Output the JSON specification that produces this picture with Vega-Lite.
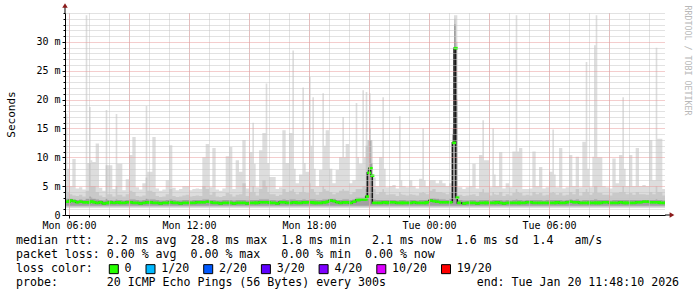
{
"$schema": "https://vega.github.io/schema/vega-lite/v6.json",
"width": 600, "height": 202,
"autosize": {"type": "none"},
"padding": {"left": 65, "top": 13, "right": 32, "bottom": 82},
"background": "#ffffff",
"config": {"font": "DejaVu Sans Mono", "view": {"stroke": null}, "axis": {"labelFont": "DejaVu Sans Mono", "labelFontSize": 10, "labelColor": "#000000", "tickColor": "#000000", "domainColor": "#000000", "gridOpacity": 1}},
"title": {"text": [
 "median\u00a0rtt:\u00a0\u00a02.2\u00a0ms\u00a0avg\u00a0\u00a028.8\u00a0ms\u00a0max\u00a0\u00a01.8\u00a0ms\u00a0min\u00a0\u00a0\u00a02.1\u00a0ms\u00a0now\u00a0\u00a01.6\u00a0ms\u00a0sd\u00a0\u00a01.4\u00a0\u00a0\u00a0am/s",
 "packet\u00a0loss:\u00a00.00\u00a0%\u00a0avg\u00a0\u00a00.00\u00a0%\u00a0max\u00a0\u00a0\u00a00.00\u00a0%\u00a0min\u00a0\u00a00.00\u00a0%\u00a0now",
 "loss\u00a0color:",
 "probe:\u00a0\u00a0\u00a0\u00a0\u00a0\u00a0\u00a020\u00a0ICMP\u00a0Echo\u00a0Pings\u00a0(56\u00a0Bytes)\u00a0every\u00a0300s\u00a0\u00a0\u00a0\u00a0\u00a0\u00a0\u00a0\u00a0\u00a0\u00a0\u00a0\u00a0\u00a0end:\u00a0Tue\u00a0Jan\u00a020\u00a011:48:10\u00a02026"],
 "orient": "bottom", "anchor": "start", "frame": "group", "dx": -49, "dy": -47, "offset": 6, "baseline": "top",
 "font": "DejaVu Sans Mono", "fontSize": 11.6, "fontWeight": "normal", "lineHeight": 14, "color": "#000000"},
"data": {"values": [
{"t":"2026-01-19T05:50Z","h":17.6,"p":5,"d":2.8,"m":2.3},
{"t":"2026-01-19T05:55Z","h":8,"p":4,"d":2.8,"m":2.3},
{"t":"2026-01-19T06:00Z","h":5,"p":3.6,"d":2.8,"m":2.5},
{"t":"2026-01-19T06:10Z","h":9.7,"p":3.4,"d":2.7,"m":2.4},
{"t":"2026-01-19T06:20Z","h":4.6,"p":3.3,"d":2.6,"m":2.2},
{"t":"2026-01-19T06:30Z","h":4.8,"p":3.5,"d":2.7,"m":2.3},
{"t":"2026-01-19T06:40Z","h":4.4,"p":3.2,"d":2.6,"m":2.2},
{"t":"2026-01-19T06:50Z","h":34.6,"p":4.2,"d":2.8,"m":2.2},
{"t":"2026-01-19T06:55Z","h":9,"p":4.2,"d":2.8,"m":2.2},
{"t":"2026-01-19T07:00Z","h":18.7,"p":9,"d":3.2,"m":2.3},
{"t":"2026-01-19T07:05Z","h":9.5,"p":5,"d":3,"m":2.3},
{"t":"2026-01-19T07:10Z","h":9.2,"p":5,"d":2.8,"m":2.2},
{"t":"2026-01-19T07:20Z","h":12.4,"p":4,"d":2.7,"m":2.1},
{"t":"2026-01-19T07:30Z","h":4.7,"p":3.4,"d":2.6,"m":2.2},
{"t":"2026-01-19T07:40Z","h":4.2,"p":3.1,"d":2.5,"m":2.0},
{"t":"2026-01-19T07:50Z","h":18.2,"p":8.6,"d":2.8,"m":2.1},
{"t":"2026-01-19T07:55Z","h":8.6,"p":3.6,"d":2.6,"m":2.1},
{"t":"2026-01-19T08:00Z","h":8.6,"p":3.6,"d":2.6,"m":2.2},
{"t":"2026-01-19T08:10Z","h":4.5,"p":3.2,"d":2.5,"m":2.1},
{"t":"2026-01-19T08:20Z","h":17.5,"p":5,"d":2.7,"m":2.2},
{"t":"2026-01-19T08:25Z","h":8.9,"p":3.5,"d":2.6,"m":2.2},
{"t":"2026-01-19T08:30Z","h":8.9,"p":3.5,"d":2.6,"m":2.1},
{"t":"2026-01-19T08:40Z","h":4.3,"p":3.2,"d":2.5,"m":2.1},
{"t":"2026-01-19T08:50Z","h":6.2,"p":3.6,"d":2.6,"m":2.2},
{"t":"2026-01-19T09:00Z","h":10.4,"p":4.2,"d":2.7,"m":2.2},
{"t":"2026-01-19T09:10Z","h":13.5,"p":4,"d":2.7,"m":2.1},
{"t":"2026-01-19T09:20Z","h":4.8,"p":3.3,"d":2.6,"m":2.1},
{"t":"2026-01-19T09:30Z","h":4.4,"p":3.2,"d":2.5,"m":2.0},
{"t":"2026-01-19T09:40Z","h":5.5,"p":3.4,"d":2.6,"m":2.1},
{"t":"2026-01-19T09:50Z","h":18.9,"p":6.5,"d":2.8,"m":2.2},
{"t":"2026-01-19T09:55Z","h":7.5,"p":4.2,"d":2.7,"m":2.2},
{"t":"2026-01-19T10:00Z","h":7.5,"p":4.2,"d":2.7,"m":2.2},
{"t":"2026-01-19T10:10Z","h":13.5,"p":4,"d":2.7,"m":2.1},
{"t":"2026-01-19T10:20Z","h":4.6,"p":3.3,"d":2.6,"m":2.1},
{"t":"2026-01-19T10:30Z","h":4.2,"p":3.1,"d":2.5,"m":2.0},
{"t":"2026-01-19T10:40Z","h":4.4,"p":3.2,"d":2.5,"m":2.1},
{"t":"2026-01-19T10:50Z","h":6,"p":3.6,"d":2.6,"m":2.1},
{"t":"2026-01-19T11:00Z","h":12.1,"p":4.5,"d":2.7,"m":2.2},
{"t":"2026-01-19T11:10Z","h":4.7,"p":3.3,"d":2.6,"m":2.1},
{"t":"2026-01-19T11:20Z","h":4.3,"p":3.1,"d":2.5,"m":2.1},
{"t":"2026-01-19T11:30Z","h":4.5,"p":3.2,"d":2.5,"m":2.0},
{"t":"2026-01-19T11:40Z","h":5,"p":3.4,"d":2.6,"m":2.1},
{"t":"2026-01-19T11:50Z","h":5,"p":3.5,"d":2.6,"m":2.1},
{"t":"2026-01-19T12:00Z","h":4.3,"p":3.2,"d":2.5,"m":2.1},
{"t":"2026-01-19T12:10Z","h":4.5,"p":3.3,"d":2.6,"m":2.1},
{"t":"2026-01-19T12:20Z","h":4.6,"p":3.4,"d":2.6,"m":2.2},
{"t":"2026-01-19T12:30Z","h":4.5,"p":3.3,"d":2.6,"m":2.2},
{"t":"2026-01-19T12:40Z","h":10,"p":5,"d":2.7,"m":2.2},
{"t":"2026-01-19T12:50Z","h":12.3,"p":4.5,"d":2.7,"m":2.3},
{"t":"2026-01-19T13:00Z","h":4.8,"p":3.5,"d":2.6,"m":2.2},
{"t":"2026-01-19T13:10Z","h":11.6,"p":4,"d":2.6,"m":2.1},
{"t":"2026-01-19T13:20Z","h":4.4,"p":3.2,"d":2.5,"m":2.1},
{"t":"2026-01-19T13:30Z","h":4.2,"p":3.1,"d":2.5,"m":2.0},
{"t":"2026-01-19T13:40Z","h":4.6,"p":3.3,"d":2.6,"m":2.1},
{"t":"2026-01-19T13:50Z","h":10.2,"p":3.8,"d":2.6,"m":2.1},
{"t":"2026-01-19T14:00Z","h":11.8,"p":3.6,"d":2.6,"m":2.1},
{"t":"2026-01-19T14:10Z","h":4.5,"p":3.2,"d":2.5,"m":2.0},
{"t":"2026-01-19T14:20Z","h":9.5,"p":3.5,"d":2.6,"m":2.1},
{"t":"2026-01-19T14:30Z","h":7.5,"p":3.6,"d":2.6,"m":2.1},
{"t":"2026-01-19T14:40Z","h":13,"p":5.5,"d":2.6,"m":2.1},
{"t":"2026-01-19T14:50Z","h":4.6,"p":3.3,"d":2.5,"m":2.0},
{"t":"2026-01-19T15:00Z","h":10.9,"p":4,"d":2.6,"m":2.1},
{"t":"2026-01-19T15:10Z","h":16,"p":5,"d":2.6,"m":2.1},
{"t":"2026-01-19T15:15Z","h":8.9,"p":4,"d":2.6,"m":2.1},
{"t":"2026-01-19T15:20Z","h":4.8,"p":3.4,"d":2.6,"m":2.1},
{"t":"2026-01-19T15:30Z","h":11.2,"p":4.5,"d":2.7,"m":2.2},
{"t":"2026-01-19T15:40Z","h":14.2,"p":6,"d":2.7,"m":2.2},
{"t":"2026-01-19T15:50Z","h":22.8,"p":5,"d":2.7,"m":2.2},
{"t":"2026-01-19T15:55Z","h":9,"p":4,"d":2.7,"m":2.2},
{"t":"2026-01-19T16:00Z","h":6.6,"p":3.6,"d":2.6,"m":2.1},
{"t":"2026-01-19T16:10Z","h":6.6,"p":3.6,"d":2.6,"m":2.1},
{"t":"2026-01-19T16:20Z","h":4.5,"p":3.3,"d":2.5,"m":2.0},
{"t":"2026-01-19T16:30Z","h":4.8,"p":3.5,"d":2.6,"m":2.2},
{"t":"2026-01-19T16:40Z","h":14.7,"p":4.5,"d":2.7,"m":2.2},
{"t":"2026-01-19T16:50Z","h":9,"p":4,"d":2.6,"m":2.1},
{"t":"2026-01-19T17:00Z","h":14.2,"p":4.2,"d":2.7,"m":2.1},
{"t":"2026-01-19T17:10Z","h":28.5,"p":4.5,"d":2.7,"m":2.2},
{"t":"2026-01-19T17:15Z","h":8,"p":4,"d":2.7,"m":2.2},
{"t":"2026-01-19T17:20Z","h":5.5,"p":3.6,"d":2.6,"m":2.1},
{"t":"2026-01-19T17:30Z","h":7,"p":4,"d":2.6,"m":2.1},
{"t":"2026-01-19T17:40Z","h":22.1,"p":5,"d":2.7,"m":2.2},
{"t":"2026-01-19T17:45Z","h":9,"p":4,"d":2.7,"m":2.2},
{"t":"2026-01-19T17:50Z","h":7.5,"p":3.8,"d":2.6,"m":2.2},
{"t":"2026-01-19T18:00Z","h":23.9,"p":5.5,"d":2.7,"m":2.2},
{"t":"2026-01-19T18:05Z","h":12,"p":4.5,"d":2.7,"m":2.2},
{"t":"2026-01-19T18:10Z","h":20.4,"p":4.5,"d":2.7,"m":2.1},
{"t":"2026-01-19T18:15Z","h":8,"p":4,"d":2.7,"m":2.1},
{"t":"2026-01-19T18:20Z","h":5,"p":3.5,"d":2.6,"m":2.1},
{"t":"2026-01-19T18:30Z","h":7.8,"p":4,"d":2.6,"m":2.1},
{"t":"2026-01-19T18:40Z","h":21.1,"p":5,"d":2.7,"m":2.2},
{"t":"2026-01-19T18:45Z","h":12,"p":4.5,"d":2.7,"m":2.2},
{"t":"2026-01-19T18:50Z","h":14.7,"p":4.2,"d":2.7,"m":2.3},
{"t":"2026-01-19T19:00Z","h":8,"p":4,"d":2.8,"m":2.5},
{"t":"2026-01-19T19:10Z","h":5.5,"p":3.6,"d":2.8,"m":2.4},
{"t":"2026-01-19T19:20Z","h":7.8,"p":3.8,"d":2.6,"m":2.2},
{"t":"2026-01-19T19:30Z","h":10,"p":4.2,"d":2.6,"m":2.1},
{"t":"2026-01-19T19:40Z","h":17,"p":4.5,"d":2.7,"m":2.2},
{"t":"2026-01-19T19:45Z","h":10,"p":4.2,"d":2.7,"m":2.2},
{"t":"2026-01-19T19:50Z","h":12.3,"p":4.2,"d":2.7,"m":2.2},
{"t":"2026-01-19T20:00Z","h":5.5,"p":3.6,"d":2.6,"m":2.1},
{"t":"2026-01-19T20:10Z","h":6,"p":4,"d":2.7,"m":2.3},
{"t":"2026-01-19T20:20Z","h":19.4,"p":4.5,"d":3,"m":2.6},
{"t":"2026-01-19T20:25Z","h":10,"p":4.5,"d":3,"m":2.6},
{"t":"2026-01-19T20:30Z","h":8.9,"p":4.5,"d":3,"m":2.7},
{"t":"2026-01-19T20:40Z","h":21.6,"p":5,"d":3,"m":2.7},
{"t":"2026-01-19T20:45Z","h":10,"p":5,"d":3,"m":2.7},
{"t":"2026-01-19T20:50Z","h":21.3,"p":12,"d":4.5,"m":3.2},
{"t":"2026-01-19T20:55Z","h":12,"p":13,"d":8,"m":7.3},
{"t":"2026-01-19T21:00Z","h":21.1,"p":15,"d":13,"m":8.1},
{"t":"2026-01-19T21:05Z","h":12,"p":13,"d":9,"m":6.8},
{"t":"2026-01-19T21:10Z","h":6.5,"p":4.5,"d":2.7,"m":2.1},
{"t":"2026-01-19T21:20Z","h":5,"p":3.6,"d":2.6,"m":2.1},
{"t":"2026-01-19T21:30Z","h":10,"p":4,"d":2.6,"m":2.1},
{"t":"2026-01-19T21:40Z","h":20.4,"p":4.5,"d":2.6,"m":2.2},
{"t":"2026-01-19T21:45Z","h":8,"p":4,"d":2.6,"m":2.2},
{"t":"2026-01-19T21:50Z","h":4.8,"p":3.5,"d":2.6,"m":2.1},
{"t":"2026-01-19T22:00Z","h":5,"p":3.6,"d":2.6,"m":2.2},
{"t":"2026-01-19T22:10Z","h":5.2,"p":3.6,"d":2.6,"m":2.2},
{"t":"2026-01-19T22:20Z","h":4.6,"p":3.3,"d":2.5,"m":2.1},
{"t":"2026-01-19T22:30Z","h":17.1,"p":4,"d":2.6,"m":2.1},
{"t":"2026-01-19T22:35Z","h":6,"p":3.6,"d":2.6,"m":2.1},
{"t":"2026-01-19T22:40Z","h":5,"p":3.5,"d":2.6,"m":2.1},
{"t":"2026-01-19T22:50Z","h":4.8,"p":3.4,"d":2.5,"m":2.1},
{"t":"2026-01-19T23:00Z","h":6,"p":3.6,"d":2.6,"m":2.1},
{"t":"2026-01-19T23:10Z","h":5,"p":3.5,"d":2.6,"m":2.2},
{"t":"2026-01-19T23:20Z","h":4.6,"p":3.4,"d":2.5,"m":2.1},
{"t":"2026-01-19T23:30Z","h":6.3,"p":3.8,"d":2.6,"m":2.1},
{"t":"2026-01-19T23:40Z","h":15,"p":4,"d":2.6,"m":2.1},
{"t":"2026-01-19T23:45Z","h":6,"p":3.8,"d":2.6,"m":2.1},
{"t":"2026-01-19T23:50Z","h":5,"p":3.6,"d":2.6,"m":2.2},
{"t":"2026-01-20T00:00Z","h":6,"p":4.2,"d":2.9,"m":2.5},
{"t":"2026-01-20T00:10Z","h":6,"p":4.5,"d":2.9,"m":2.4},
{"t":"2026-01-20T00:20Z","h":5.5,"p":4,"d":2.8,"m":2.3},
{"t":"2026-01-20T00:30Z","h":6,"p":4,"d":2.7,"m":2.2},
{"t":"2026-01-20T00:40Z","h":5.5,"p":3.8,"d":2.7,"m":2.2},
{"t":"2026-01-20T00:50Z","h":5,"p":3.6,"d":2.6,"m":2.2},
{"t":"2026-01-20T01:00Z","h":5.5,"p":4,"d":2.8,"m":2.2},
{"t":"2026-01-20T01:10Z","h":15,"p":14,"d":14,"m":12.5},
{"t":"2026-01-20T01:15Z","h":34.6,"p":34,"d":33,"m":28.9},
{"t":"2026-01-20T01:20Z","h":34.6,"p":30,"d":20,"m":3},
{"t":"2026-01-20T01:25Z","h":4.8,"p":3.5,"d":2.6,"m":2.1},
{"t":"2026-01-20T01:40Z","h":4.5,"p":3.3,"d":2.5,"m":2.0},
{"t":"2026-01-20T01:50Z","h":4.8,"p":3.4,"d":2.5,"m":2.1},
{"t":"2026-01-20T02:00Z","h":5,"p":3.5,"d":2.6,"m":2.1},
{"t":"2026-01-20T02:10Z","h":8.9,"p":3.6,"d":2.6,"m":2.1},
{"t":"2026-01-20T02:20Z","h":4.6,"p":3.3,"d":2.5,"m":2.0},
{"t":"2026-01-20T02:30Z","h":10.4,"p":4,"d":2.6,"m":2.1},
{"t":"2026-01-20T02:40Z","h":16.4,"p":4.5,"d":2.6,"m":2.1},
{"t":"2026-01-20T02:45Z","h":9.5,"p":3.8,"d":2.6,"m":2.1},
{"t":"2026-01-20T02:50Z","h":9.5,"p":3.8,"d":2.6,"m":2.1},
{"t":"2026-01-20T03:00Z","h":4.8,"p":3.4,"d":2.5,"m":2.1},
{"t":"2026-01-20T03:10Z","h":15,"p":4,"d":2.6,"m":2.1},
{"t":"2026-01-20T03:15Z","h":7,"p":3.6,"d":2.6,"m":2.1},
{"t":"2026-01-20T03:20Z","h":5,"p":3.5,"d":2.6,"m":2.2},
{"t":"2026-01-20T03:30Z","h":10.9,"p":4,"d":2.6,"m":2.1},
{"t":"2026-01-20T03:40Z","h":4.6,"p":3.3,"d":2.5,"m":2.0},
{"t":"2026-01-20T03:50Z","h":5.5,"p":3.6,"d":2.6,"m":2.1},
{"t":"2026-01-20T04:00Z","h":4.8,"p":3.4,"d":2.5,"m":2.1},
{"t":"2026-01-20T04:10Z","h":11,"p":3.8,"d":2.6,"m":2.1},
{"t":"2026-01-20T04:20Z","h":34.6,"p":4.5,"d":2.7,"m":2.1},
{"t":"2026-01-20T04:25Z","h":11,"p":4,"d":2.6,"m":2.1},
{"t":"2026-01-20T04:30Z","h":11.6,"p":3.8,"d":2.6,"m":2.1},
{"t":"2026-01-20T04:40Z","h":4.5,"p":3.4,"d":2.5,"m":2.1},
{"t":"2026-01-20T04:50Z","h":4.5,"p":3.5,"d":2.6,"m":2.2},
{"t":"2026-01-20T05:00Z","h":4.6,"p":3.4,"d":2.6,"m":2.2},
{"t":"2026-01-20T05:10Z","h":11,"p":4,"d":2.6,"m":2.1},
{"t":"2026-01-20T05:20Z","h":5,"p":3.6,"d":2.6,"m":2.1},
{"t":"2026-01-20T05:30Z","h":8.3,"p":3.8,"d":2.6,"m":2.1},
{"t":"2026-01-20T05:40Z","h":4.6,"p":3.4,"d":2.5,"m":2.1},
{"t":"2026-01-20T05:50Z","h":4.8,"p":3.5,"d":2.6,"m":2.1},
{"t":"2026-01-20T06:00Z","h":7.5,"p":3.8,"d":2.6,"m":2.1},
{"t":"2026-01-20T06:10Z","h":14.8,"p":4,"d":2.6,"m":2.1},
{"t":"2026-01-20T06:15Z","h":7,"p":3.8,"d":2.6,"m":2.1},
{"t":"2026-01-20T06:20Z","h":4.8,"p":3.5,"d":2.6,"m":2.2},
{"t":"2026-01-20T06:30Z","h":11.6,"p":3.8,"d":2.6,"m":2.1},
{"t":"2026-01-20T06:40Z","h":4.6,"p":3.4,"d":2.5,"m":2.1},
{"t":"2026-01-20T06:50Z","h":4.8,"p":3.5,"d":2.6,"m":2.2},
{"t":"2026-01-20T07:00Z","h":10.4,"p":4,"d":2.7,"m":2.3},
{"t":"2026-01-20T07:10Z","h":5,"p":3.6,"d":2.6,"m":2.2},
{"t":"2026-01-20T07:20Z","h":10.1,"p":4.5,"d":2.7,"m":2.2},
{"t":"2026-01-20T07:30Z","h":4.8,"p":3.4,"d":2.5,"m":2.1},
{"t":"2026-01-20T07:40Z","h":12.7,"p":4,"d":2.6,"m":2.1},
{"t":"2026-01-20T07:50Z","h":26.5,"p":4.5,"d":2.6,"m":2.1},
{"t":"2026-01-20T07:55Z","h":8,"p":4,"d":2.6,"m":2.1},
{"t":"2026-01-20T08:00Z","h":4.8,"p":3.5,"d":2.6,"m":2.1},
{"t":"2026-01-20T08:10Z","h":10.1,"p":3.8,"d":2.6,"m":2.1},
{"t":"2026-01-20T08:15Z","h":29.4,"p":5,"d":2.7,"m":2.1},
{"t":"2026-01-20T08:20Z","h":34.6,"p":5,"d":2.7,"m":2.1},
{"t":"2026-01-20T08:25Z","h":10,"p":3.8,"d":2.6,"m":2.1},
{"t":"2026-01-20T08:30Z","h":10,"p":3.8,"d":2.6,"m":2.1},
{"t":"2026-01-20T08:40Z","h":5,"p":3.5,"d":2.6,"m":2.2},
{"t":"2026-01-20T08:50Z","h":4.8,"p":3.5,"d":2.6,"m":2.2},
{"t":"2026-01-20T09:00Z","h":4.6,"p":3.4,"d":2.5,"m":2.1},
{"t":"2026-01-20T09:10Z","h":9.8,"p":3.8,"d":2.6,"m":2.1},
{"t":"2026-01-20T09:20Z","h":5.5,"p":3.8,"d":2.6,"m":2.1},
{"t":"2026-01-20T09:30Z","h":10.4,"p":4,"d":2.6,"m":2.2},
{"t":"2026-01-20T09:40Z","h":20.4,"p":5,"d":2.6,"m":2.1},
{"t":"2026-01-20T09:45Z","h":8,"p":4,"d":2.6,"m":2.1},
{"t":"2026-01-20T09:50Z","h":5,"p":3.6,"d":2.6,"m":2.1},
{"t":"2026-01-20T10:00Z","h":10.4,"p":3.8,"d":2.6,"m":2.1},
{"t":"2026-01-20T10:10Z","h":5,"p":3.5,"d":2.6,"m":2.1},
{"t":"2026-01-20T10:20Z","h":11.6,"p":4,"d":2.6,"m":2.2},
{"t":"2026-01-20T10:30Z","h":5,"p":3.6,"d":2.6,"m":2.2},
{"t":"2026-01-20T10:40Z","h":5.2,"p":3.6,"d":2.6,"m":2.3},
{"t":"2026-01-20T10:50Z","h":5,"p":3.5,"d":2.6,"m":2.3},
{"t":"2026-01-20T11:00Z","h":13,"p":4,"d":2.6,"m":2.2},
{"t":"2026-01-20T11:10Z","h":6,"p":3.6,"d":2.6,"m":2.2},
{"t":"2026-01-20T11:20Z","h":29,"p":5,"d":2.7,"m":2.2},
{"t":"2026-01-20T11:25Z","h":13.2,"p":4,"d":2.6,"m":2.2},
{"t":"2026-01-20T11:30Z","h":13.2,"p":4,"d":2.6,"m":2.1},
{"t":"2026-01-20T11:40Z","h":4.5,"p":3.4,"d":2.5,"m":2.1},
{"t":"2026-01-20T11:50Z","h":4.5,"p":3.4,"d":2.5,"m":2.1}
]},
"resolve": {"axis": {"x": "independent", "y": "independent"}},
"layer": [
 {"mark": {"type": "area", "interpolate": "step-after", "color": "#dddddd", "clip": true},
  "encoding": {
   "x": {"field": "t", "type": "temporal",
     "scale": {"type": "utc", "domain": [1768801680000, 1768909680000]},
     "axis": {"orient": "bottom", "values": [1768802400000,1768806000000,1768809600000,1768813200000,1768816800000,1768820400000,1768824000000,1768827600000,1768831200000,1768834800000,1768838400000,1768842000000,1768845600000,1768849200000,1768852800000,1768856400000,1768860000000,1768863600000,1768867200000,1768870800000,1768874400000,1768878000000,1768881600000,1768885200000,1768888800000,1768892400000,1768896000000,1768899600000,1768903200000,1768906800000],
       "grid": true, "gridColor": "#c4c4c4", "gridDash": [1, 1], "labels": false, "domain": false, "ticks": true, "tickSize": 2, "title": null, "zindex": 1}},
   "y": {"field": "h", "type": "quantitative", "scale": {"domain": [0, 35], "nice": false, "zero": true},
     "axis": {"orient": "left", "values": [1, 3, 4, 6, 7, 8, 9, 11, 12, 13, 14, 16, 17, 18, 19, 21, 22, 23, 24, 26, 27, 28, 29, 31, 32, 33, 34, 35], "grid": true, "gridColor": "#c4c4c4", "gridDash": [1, 1], "labels": false, "domain": false, "ticks": true, "tickSize": 2, "title": null, "zindex": 1}},
   "y2": {"datum": 1.3}
  }},
 {"mark": {"type": "area", "interpolate": "step-after", "color": "#c9c9c9", "clip": true},
  "encoding": {
   "x": {"field": "t", "type": "temporal",
     "axis": {"orient": "bottom", "values": [1768802400000,1768813200000,1768824000000,1768834800000,1768845600000,1768856400000,1768867200000,1768878000000,1768888800000,1768899600000],
       "grid": true, "gridColor": "#e89a9a", "gridDash": [1, 1], "labels": false, "domain": false, "ticks": false, "title": null, "zindex": 1}},
   "y": {"field": "p", "type": "quantitative",
     "axis": {"orient": "left", "values": [0, 5, 10, 15, 20, 25, 30], "grid": true, "gridColor": "#e89a9a", "gridDash": [1, 1],
       "labelExpr": "datum.value == 0 ? '0' : datum.value + ' m'", "labelPadding": 2, "tickSize": 3, "domain": true,
       "title": "Seconds", "titleFont": "DejaVu Sans Mono", "titleFontSize": 11, "titleFontWeight": "normal", "titleColor": "#000000",
       "titleX": -54, "titleY": 101, "titleAngle": 270, "titleAlign": "center", "titleBaseline": "middle", "zindex": 1}},
   "y2": {"datum": 1.3}
  }},
 {"mark": {"type": "area", "interpolate": "step-after", "color": "#a0a0a0", "clip": true},
  "encoding": {
   "x": {"field": "t", "type": "temporal",
     "axis": {"orient": "bottom", "values": [1768802400000,1768824000000,1768845600000,1768867200000,1768888800000], "format": "%a %H:%M", "grid": false, "domain": true, "ticks": true, "tickSize": 3, "labelPadding": 2, "labelFlush": false, "labelOverlap": false, "title": null, "zindex": 1}},
   "y": {"field": "d", "type": "quantitative",
     "axis": {"orient": "right", "labels": false, "ticks": false, "domain": false, "grid": false,
       "title": "RRDTOOL / TOBI OETIKER", "titleFont": "DejaVu Sans Mono", "titleFontSize": 8.3, "titleFontWeight": "normal", "titleColor": "#b8b8b8",
       "titleAngle": 90, "titleX": 21, "titleY": -8, "titleAlign": "left", "titleBaseline": "middle"}},
   "y2": {"datum": 1.6}
  }},
 {"mark": {"type": "line", "interpolate": "step-after", "color": "#1a1a1a", "strokeWidth": 1.5, "clip": true},
  "encoding": {
   "x": {"field": "t", "type": "temporal", "axis": null},
   "y": {"field": "m", "type": "quantitative", "axis": null}
  }},
 {"mark": {"type": "tick", "orient": "horizontal", "size": 2.2, "thickness": 2.6, "xOffset": 0.9, "opacity": 1, "clip": true},
  "encoding": {
   "x": {"field": "t", "type": "temporal", "axis": null},
   "y": {"field": "m", "type": "quantitative", "axis": null},
   "color": {"datum": "0", "type": "nominal",
     "scale": {"domain": ["0", "1/20", "2/20", "3/20", "4/20", "10/20", "19/20"], "range": ["#26ff00", "#00b8ff", "#0059ff", "#5e00ff", "#7e00ff", "#dd00ff", "#ff0000"]},
     "legend": {"orient": "none", "legendX": 43, "legendY": 250, "direction": "horizontal", "title": null,
       "symbolType": "square", "symbolSize": 81, "symbolStrokeColor": "#000000", "symbolStrokeWidth": 1, "symbolOpacity": 1,
       "labelFont": "DejaVu Sans Mono", "labelFontSize": 11.6, "labelColor": "#000000", "labelOffset": 5, "columnPadding": 11.7}}
  }},
 {"mark": {"type": "tick", "orient": "horizontal", "size": 2.2, "thickness": 2.6, "xOffset": 2.6, "opacity": 1, "clip": true, "color": "#26ff00"},
  "encoding": {
   "x": {"field": "t", "type": "temporal", "axis": null},
   "y": {"field": "m", "type": "quantitative", "axis": null}
  }},
 {"data": {"values": [{}]},
  "mark": {"type": "rule", "color": "#000000", "strokeWidth": 1},
  "encoding": {
   "x": {"datum": 1768801680000, "type": "temporal", "axis": null},
   "y": {"datum": 35, "type": "quantitative", "axis": null},
   "y2": {"datum": 36.1}
  }},
 {"data": {"values": [{}]},
  "mark": {"type": "rule", "color": "#000000", "strokeWidth": 1},
  "encoding": {
   "x": {"datum": 1768909680000, "type": "temporal", "axis": null},
   "x2": {"datum": 1768910760000},
   "y": {"datum": 0, "type": "quantitative", "axis": null}
  }},
 {"data": {"values": [{}]},
  "mark": {"type": "point", "shape": "triangle-up", "filled": true, "size": 30, "color": "#8b1a1a", "opacity": 1},
  "encoding": {
   "x": {"datum": 1768801680000, "type": "temporal", "axis": null},
   "y": {"datum": 36.3, "type": "quantitative", "axis": null}
  }},
 {"data": {"values": [{}]},
  "mark": {"type": "point", "shape": "triangle-right", "filled": true, "size": 30, "color": "#8b1a1a", "opacity": 1},
  "encoding": {
   "x": {"datum": 1768910940000, "type": "temporal", "axis": null},
   "y": {"datum": 0, "type": "quantitative", "axis": null}
  }}
]
}
